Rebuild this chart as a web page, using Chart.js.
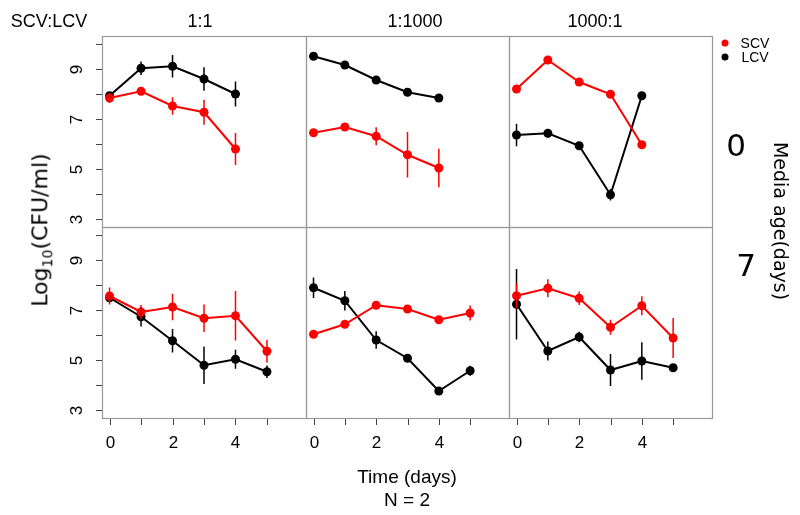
<!DOCTYPE html>
<html>
<head>
<meta charset="utf-8">
<script src="https://cdn.jsdelivr.net/npm/chart.js@4/dist/chart.umd.min.js"></script>
<style>
  body { margin: 0; background: #fff; }
  #wrap { position: relative; width: 800px; height: 515px; font-family: "Liberation Sans", Arial, sans-serif; color: #000; }
  #wrap canvas { position: absolute; left: 0; top: 0; }
  .t { position: absolute; white-space: nowrap; line-height: 1; transform: translate(-50%, -50%); }
  .dot { position: absolute; width: 7px; height: 7px; border-radius: 50%; transform: translate(-50%, -50%); }
</style>
</head>
<body>
<div id="wrap">
  <canvas id="p0"></canvas><canvas id="p1"></canvas><canvas id="p2"></canvas>
  <canvas id="p3"></canvas><canvas id="p4"></canvas><canvas id="p5"></canvas>

  <div class="t" style="left:49px;top:21px;font-size:18px">SCV:LCV</div>
  <div class="t" id="r0" style="left:200px;top:21px;font-size:18px"></div>
  <div class="t" id="r1" style="left:415px;top:21px;font-size:18px"></div>
  <div class="t" id="r2" style="left:595px;top:21px;font-size:18px"></div>

  <div class="dot" style="left:725px;top:43px;background:#ff0000"></div>
  <div class="t" style="left:755px;top:43px;font-size:14px">SCV</div>
  <div class="dot" style="left:725px;top:57px;background:#000"></div>
  <div class="t" style="left:755px;top:57px;font-size:14px">LCV</div>

  <div class="t" id="a0" style="left:736px;top:145px;font-size:31px;font-family:'DejaVu Sans'"></div>
  <div class="t" id="a1" style="left:746px;top:265px;font-size:31px;font-family:'DejaVu Sans'"></div>

  <div class="t" style="left:42px;top:230px;font-size:22px;font-family:'DejaVu Sans';transform:translate(-50%,-50%) rotate(-90deg)">Log<sub style="font-size:14px">10</sub>(CFU/ml)</div>
  <div class="t" style="left:780px;top:221px;font-size:19px;font-family:'DejaVu Sans';transform:translate(-50%,-50%) rotate(90deg)">Media age(days)</div>

  <div class="t" style="left:407px;top:476px;font-size:19px">Time (days)</div>
  <div class="t" style="left:407px;top:499px;font-size:19px">N = 2</div>
</div>
<script>
// categories
const ratios = ['1:1', '1:1000', '1000:1'];
const mediaAges = ['0', '7'];
const daysTop = [0, 1, 2, 3, 4];
const daysBottom = [0, 1, 2, 3, 4, 5];

// tick labels
const yTicks = [3, 4, 5, 6, 7, 8, 9, 10];
const yLabels = [3, 5, 7, 9];
const xTicks = [0, 1, 2, 3, 4, 5];
const xLabels = [0, 2, 4];

// media age 0
const scv0_11 = [7.84, 8.11, 7.52, 7.27, 5.80];
const scv0_11Err = [0.20, 0.05, 0.35, 0.50, 0.64];
const lcv0_11 = [7.93, 9.03, 9.11, 8.60, 8.00];
const lcv0_11Err = [0.08, 0.27, 0.45, 0.47, 0.50];

const scv0_1k = [6.45, 6.68, 6.31, 5.57, 5.04];
const scv0_1kErr = [0.05, 0.05, 0.36, 0.91, 0.77];
const lcv0_1k = [9.51, 9.16, 8.56, 8.07, 7.84];
const lcv0_1kErr = [0.03, 0.03, 0.03, 0.03, 0.03];

const scv0_k1 = [8.20, 9.36, 8.48, 7.99, 5.97];
const scv0_k1Err = [0.03, 0.03, 0.03, 0.03, 0.03];
const lcv0_k1 = [6.36, 6.43, 5.93, 3.97, 7.93];
const lcv0_k1Err = [0.45, 0.17, 0.05, 0.23, 0.05];

// media age 7
const scv7_11 = [7.56, 6.92, 7.12, 6.67, 6.77, 5.35];
const scv7_11Err = [0.34, 0.28, 0.53, 0.55, 0.99, 0.46];
const lcv7_11 = [7.49, 6.73, 5.77, 4.79, 5.03, 4.53];
const lcv7_11Err = [0.12, 0.39, 0.47, 0.75, 0.38, 0.25];

const scv7_1k = [6.03, 6.43, 7.19, 7.04, 6.61, 6.88];
const scv7_1kErr = [0.05, 0.05, 0.05, 0.05, 0.05, 0.30];
const lcv7_1k = [7.89, 7.37, 5.80, 5.07, 3.76, 4.57];
const lcv7_1kErr = [0.41, 0.39, 0.35, 0.05, 0.05, 0.20];

const scv7_k1 = [7.57, 7.87, 7.47, 6.31, 7.17, 5.88];
const scv7_k1Err = [0.50, 0.36, 0.27, 0.30, 0.38, 0.80];
const lcv7_k1 = [7.23, 5.36, 5.92, 4.60, 4.96, 4.69];
const lcv7_k1Err = [1.41, 0.38, 0.21, 0.64, 0.75, 0.05];

const RED = '#ff0000';
const BLACK = '#000000';

// panel boxes (left, top, right, bottom) in page pixels
const colEdges = [102, 306, 509, 712];
const rowEdges = [36, 227, 418];

ratios.forEach((r, i) => { document.getElementById('r' + i).textContent = r; });
mediaAges.forEach((a, i) => { document.getElementById('a' + i).textContent = a; });

const panels = [
  { days: daysTop, scv: scv0_11, scvErr: scv0_11Err, lcv: lcv0_11, lcvErr: lcv0_11Err },
  { days: daysTop, scv: scv0_1k, scvErr: scv0_1kErr, lcv: lcv0_1k, lcvErr: lcv0_1kErr },
  { days: daysTop, scv: scv0_k1, scvErr: scv0_k1Err, lcv: lcv0_k1, lcvErr: lcv0_k1Err },
  { days: daysBottom, scv: scv7_11, scvErr: scv7_11Err, lcv: lcv7_11, lcvErr: lcv7_11Err },
  { days: daysBottom, scv: scv7_1k, scvErr: scv7_1kErr, lcv: lcv7_1k, lcvErr: lcv7_1kErr },
  { days: daysBottom, scv: scv7_k1, scvErr: scv7_k1Err, lcv: lcv7_k1, lcvErr: lcv7_k1Err },
];

// vertical error bars, drawn through the chart's own scales
const errorBars = {
  id: 'errorBars',
  afterDatasetsDraw(chart) {
    const { ctx, scales: { x, y } } = chart;
    ctx.save();
    ctx.lineWidth = 1.5;
    for (let d = chart.data.datasets.length - 1; d >= 0; d--) {
      const ds = chart.data.datasets[d];
      ctx.strokeStyle = ds.borderColor;
      ds.data.forEach((p, k) => {
        const e = ds.errors[k];
        const px = x.getPixelForValue(p.x);
        ctx.beginPath();
        ctx.moveTo(px, y.getPixelForValue(p.y - e));
        ctx.lineTo(px, y.getPixelForValue(p.y + e));
        ctx.stroke();
      });
    }
    ctx.restore();
  }
};

// R-style box, ticks and labels
const panelFrame = {
  id: 'panelFrame',
  afterDraw(chart, args, opts) {
    const { ctx, chartArea: a, scales: { x, y } } = chart;
    ctx.save();
    ctx.strokeStyle = '#999';
    ctx.lineWidth = 1.2;
    ctx.strokeRect(a.left + 0.5, a.top + 0.5, a.right - a.left, a.bottom - a.top);

    ctx.strokeStyle = '#444';
    ctx.lineWidth = 1;
    ctx.fillStyle = '#000';
    ctx.font = '17px "Liberation Sans", Arial, sans-serif';
    ctx.textAlign = 'center';
    ctx.textBaseline = 'middle';
    if (opts.yAxis) {
      yTicks.forEach(v => {
        const py = Math.round(y.getPixelForValue(v)) + 0.5;
        ctx.beginPath();
        ctx.moveTo(a.left - 6, py);
        ctx.lineTo(a.left, py);
        ctx.stroke();
        if (yLabels.includes(v)) {
          ctx.save();
          ctx.translate(a.left - 26, py);
          ctx.rotate(-Math.PI / 2);
          ctx.fillText(String(v), 0, 1);
          ctx.restore();
        }
      });
    }
    if (opts.xAxis) {
      xTicks.forEach(v => {
        const px = Math.round(x.getPixelForValue(v)) + 0.5;
        ctx.beginPath();
        ctx.moveTo(px, a.bottom + 1);
        ctx.lineTo(px, a.bottom + 7);
        ctx.stroke();
        if (xLabels.includes(v)) ctx.fillText(String(v), px, a.bottom + 25);
      });
    }
    ctx.restore();
  }
};

panels.forEach((p, i) => {
  const col = i % 3, row = Math.floor(i / 3);
  const canvas = document.getElementById('p' + i);
  canvas.width = 800;
  canvas.height = 515;
  const line = (label, vals, errs, color) => ({
    label,
    data: p.days.map((d, k) => ({ x: d, y: vals[k] })),
    errors: errs,
    borderColor: color,
    backgroundColor: color,
    pointBackgroundColor: color,
    pointBorderColor: color,
    pointRadius: 4.5,
    pointBorderWidth: 0,
    borderWidth: 2,
    tension: 0,
  });
  new Chart(canvas.getContext('2d'), {
    type: 'line',
    data: {
      datasets: [
        line('SCV', p.scv, p.scvErr, RED),
        line('LCV', p.lcv, p.lcvErr, BLACK),
      ],
    },
    options: {
      responsive: false,
      animation: false,
      devicePixelRatio: 1,
      layout: {
        padding: {
          left: colEdges[col],
          right: 800 - colEdges[col + 1],
          top: rowEdges[row],
          bottom: 515 - rowEdges[row + 1],
        },
      },
      scales: {
        x: { type: 'linear', min: -0.24, max: 6.24, display: false },
        y: { type: 'linear', min: 2.68, max: 10.32, display: false },
      },
      plugins: {
        legend: { display: false },
        tooltip: { enabled: false },
        panelFrame: { yAxis: col === 0, xAxis: row === 1 },
      },
    },
    plugins: [errorBars, panelFrame],
  });
});
</script>
</body>
</html>
